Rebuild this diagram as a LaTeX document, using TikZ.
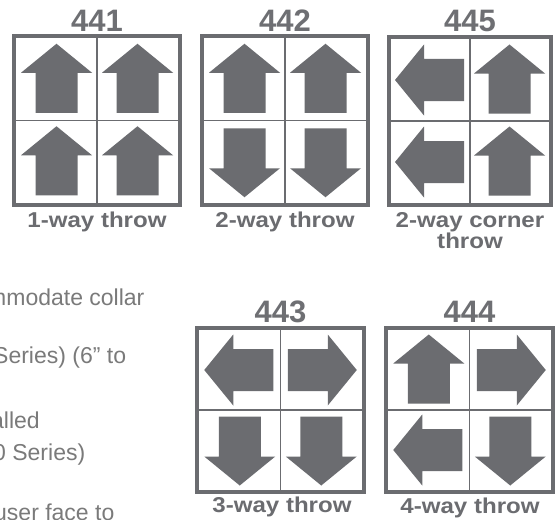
\documentclass[tikz,border=0pt]{standalone}
\usepackage{fontspec}
\setmainfont{Liberation Sans}
\definecolor{agray}{HTML}{6B6C70}
\definecolor{tgray}{HTML}{6E6F73}
\definecolor{bgray}{HTML}{7A7A7A}
\newcommand\wdtxt[1]{\scalebox{1.12}[1]{#1}}
\newcommand\throwbox[8]{%
  \draw[boxline] ({#1+2},{#2+2}) rectangle ({#3-2},{#4-2});
  \draw[divline] ({(#1+#3)/2},{#2+4}) -- ({(#1+#3)/2},{#4-4});
  \draw[divline] ({#1+4},{(#2+#4)/2}) -- ({#3-4},{(#2+#4)/2});
  \path ({(3*#1+#3)/4+2},{(3*#2+#4)/4+2}) pic[rotate=#5]{thrw};
  \path ({(#1+3*#3)/4-2},{(3*#2+#4)/4+2}) pic[rotate=#6]{thrw};
  \path ({(3*#1+#3)/4+2},{(#2+3*#4)/4-2}) pic[rotate=#7]{thrw};
  \path ({(#1+3*#3)/4-2},{(#2+3*#4)/4-2}) pic[rotate=#8]{thrw};
}
\begin{document}
\begin{tikzpicture}[x=1pt,y=-1pt,
  boxline/.style={draw=agray,line width=4pt},
  divline/.style={draw=agray,line width=1.6pt},
  ttl/.style={font=\bfseries\fontsize{31}{31}\selectfont,text=tgray,anchor=base,inner sep=0pt},
  lbl/.style={font=\bfseries\fontsize{21.5}{21}\selectfont,text=agray,anchor=base,inner sep=0pt,align=center},
  body/.style={font=\fontsize{23}{28}\selectfont,text=bgray,anchor=base west,inner sep=0pt},
  thrw/.pic={\fill[agray] (0,-35.5) -- (35.5,-6.5) -- (21,-6.5) -- (21,33.5) -- (-21,33.5) -- (-21,-6.5) -- (-35.5,-6.5) -- cycle;}
]
\useasboundingbox[fill=white] (0,0) rectangle (559,519);

% left body text, cut by the picture edge as in the reference
\begin{scope}
\clip (0,0) rectangle (559,519);
\node[body] (t1) at (-13,305) {mmodate collar};
\node[body] (t2) at (-7,363) {Series) (6” to};
\node[body] (t3) at (-9,428) {alled};
\node[body] (t4) at (-7,460) {0 Series)};
\node[body] (t5) at (-6,520) {user face to};
\end{scope}

% boxes
\throwbox{12}{34}{182}{207}{0}{0}{0}{0}
\throwbox{200}{34}{370}{207}{0}{0}{180}{180}
\throwbox{387}{35}{553}{207}{90}{0}{90}{0}
\throwbox{195}{326}{366}{494}{90}{-90}{180}{180}
\throwbox{384}{326}{555}{494}{0}{-90}{90}{180}

% titles
\node[ttl] (n441) at (97,31.5) {441};
\node[ttl] (n442) at (285,31.5) {442};
\node[ttl] (n445) at (470,31.5) {445};
\node[ttl] (n443) at (280.5,322) {443};
\node[ttl] (n444) at (469.5,322) {444};

% labels
\node[lbl] (l441) at (97,227) {\wdtxt{1-way throw}};
\node[lbl] (l442) at (285,227) {\wdtxt{2-way throw}};
\node[lbl] (l445) at (470,248) {\wdtxt{2-way corner}\\\wdtxt{throw}};
\node[lbl] (l443) at (282,512) {\wdtxt{3-way throw}};
\node[lbl] (l444) at (470,513) {\wdtxt{4-way throw}};
\end{tikzpicture}
\end{document}
